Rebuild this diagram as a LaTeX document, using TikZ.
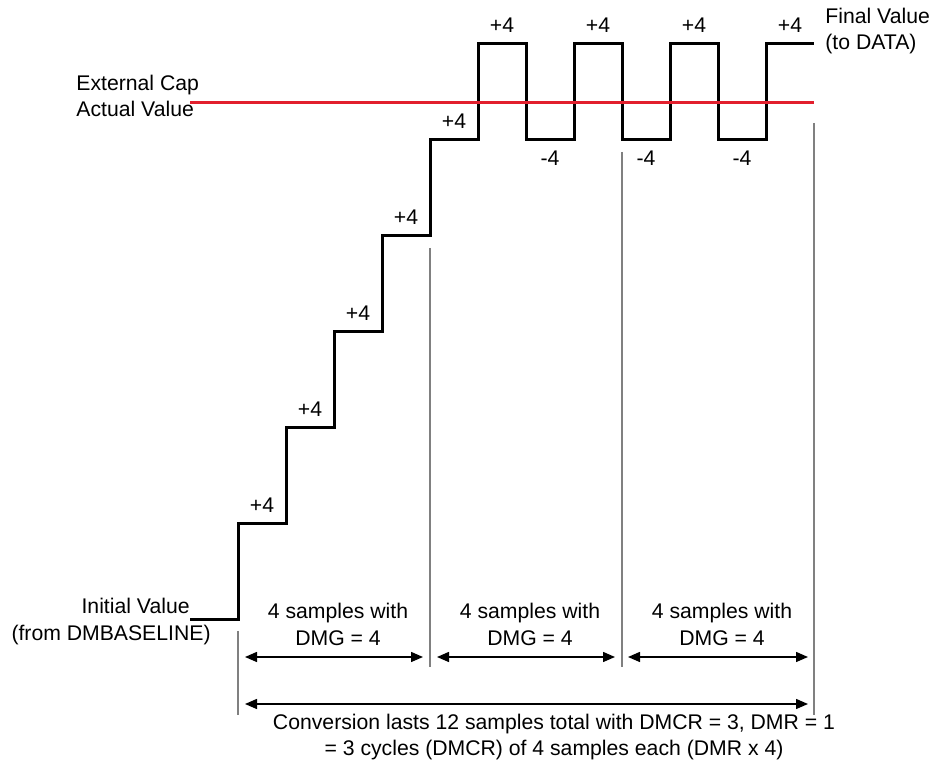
\documentclass[tikz,border=0pt]{standalone}
\usepackage{fontspec}
\setmainfont{Liberation Sans}
\usetikzlibrary{arrows.meta, positioning, calc}
\definecolor{capred}{HTML}{E21F2D}
\definecolor{guidegrey}{HTML}{808080}
\tikzset{
  >={Triangle[length=6pt, width=5pt]},
  wave/.style={line width=1.5pt, draw=black, line join=miter},
  capline/.style={line width=1.5pt, draw=capred},
  guide/.style={line width=1pt, draw=guidegrey},
  span/.style={<->, line width=0.7pt},
  lbl/.style={font=\fontsize{10.6}{13.2}\selectfont, inner sep=0pt, align=center},
}

\begin{document}
\begin{tikzpicture}[x=0.5pt, y=-0.5pt]
  \useasboundingbox (0,0) rectangle (934,764);
  % staircase, then the dither around the cap value
  \coordinate (w0) at (190,620);
  \draw[wave] (w0) \foreach \k in {1,...,6} { -- ++(48,0) -- ++(0,-96) }
    \foreach \k in {1,...,3} { -- ++(48,0) -- ++(0,96) -- ++(48,0) -- ++(0,-96) }
    -- ++(48,0) coordinate (w1);
  \foreach \k in {0,...,4} \node[lbl] (st\k) at (262+48*\k, 505-96*\k) {+4};
  \foreach \k in {0,...,3} \node[lbl] (hi\k) at (502+96*\k, 25) {+4};
  \foreach \k in {0,...,2} \node[lbl] (lo\k) at (550+96*\k, 158) {-4};

  \coordinate (capL) at (190,103);
  \coordinate (capR) at (814,103);
  \draw[capline] (capL) -- (capR);
  \node[lbl, anchor=west, align=left] (cap) at (76,96) {External Cap\\Actual Value};
  \node[lbl, anchor=west, align=left] (fin) at (825,31) {Final Value\\(to DATA)};
  \node[lbl, anchor=east] (initv) at (190,606) {Initial Value};
  \node[lbl, anchor=east] (fromb) at (211,635) {(from DMBASELINE)};

  % cycle borders
  \foreach \i/\x/\ya/\yb in {0/238/631/715, 1/430/248/667, 2/622/152/667, 3/814/123/715} {
    \coordinate (ga\i) at (\x,\ya);
    \coordinate (gb\i) at (\x,\yb);
    \draw[guide] (ga\i) -- (gb\i);
  }

  \foreach \i/\xl/\xr in {1/245/423, 2/437/615, 3/628/808} {
    \coordinate (al\i) at (\xl,657);
    \coordinate (ar\i) at (\xr,657);
    \coordinate (am\i) at ($(al\i)!0.5!(ar\i)$);
    \draw[span] (al\i) -- (ar\i);
    \node[lbl, above=5.5pt of am\i, xshift=2pt] (smp\i) {4 samples with\\DMG = 4};
  }

  \coordinate (tl) at (245,704);
  \coordinate (tr) at (808,704);
  \draw[span] (tl) -- (tr);
  \node[lbl] (conv) at (554,737) {Conversion lasts 12 samples total with DMCR = 3, DMR = 1\\= 3 cycles (DMCR) of 4 samples each (DMR x 4)};
\end{tikzpicture}
\end{document}
